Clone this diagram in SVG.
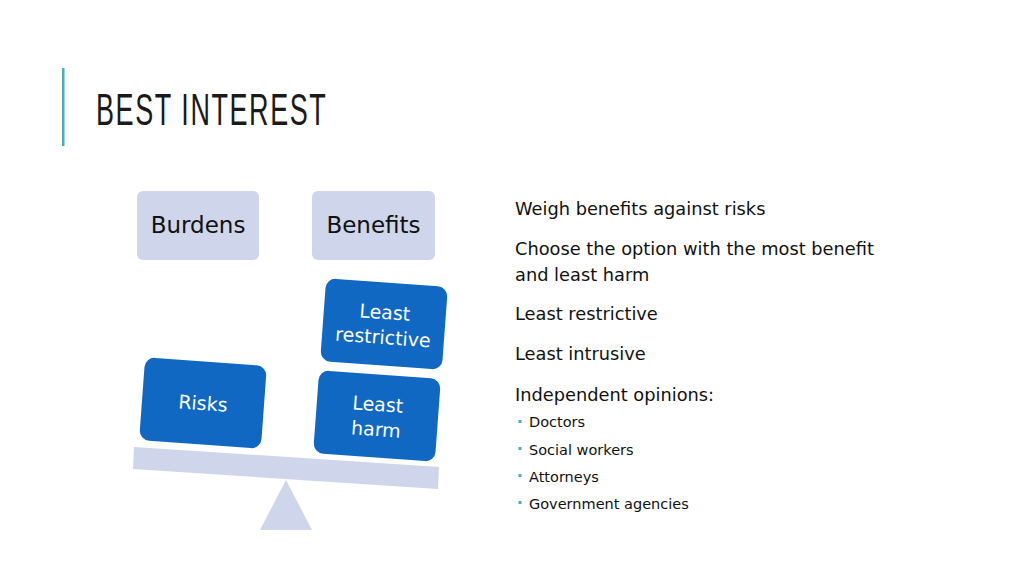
<svg xmlns="http://www.w3.org/2000/svg" width="1024" height="576" viewBox="0 0 1024 576">
<style>
.bg{fill:#ffffff}
.light{fill:#cfd5ea}
.blue{fill:#1068c2}
.lbl{font-family:"DejaVu Sans","Noto Sans",sans-serif;font-size:23px;fill:#111111;text-anchor:middle}
.wlbl{font-family:"DejaVu Sans","Noto Sans",sans-serif;font-size:19px;fill:#ffffff;text-anchor:middle}
.body{font-family:"DejaVu Sans","Noto Sans",sans-serif;font-size:17.8px;fill:#111111}
.sub{font-family:"DejaVu Sans","Noto Sans",sans-serif;font-size:14.5px;fill:#111111}
.bul{fill:#4bacc6}
.title{font-family:"Liberation Sans",Arial,sans-serif;font-size:45px;fill:#1a1a1a}
</style>
<rect class="bg" x="0" y="0" width="1024" height="576"/>
<rect x="62" y="68" width="2.5" height="78" fill="#4bacc6"/>
<text class="title" transform="scale(0.6,1)" x="160" y="125" textLength="383" lengthAdjust="spacing">BEST INTEREST</text>

<g id="burdens">
<rect class="light" x="137" y="191" width="122" height="69" rx="6"/>
<text class="lbl" x="198" y="233">Burdens</text>
</g>
<g id="benefits">
<rect class="light" x="312" y="191" width="123" height="69" rx="6"/>
<text class="lbl" x="373.5" y="233">Benefits</text>
</g>

<g id="least-restrictive" transform="translate(384,324) rotate(4.2)">
<rect class="blue" x="-61" y="-41.5" width="122" height="83" rx="10"/>
<text class="wlbl" x="0" y="-5">Least</text>
<text class="wlbl" x="0" y="20">restrictive</text>
</g>
<g id="least-harm" transform="translate(377,416) rotate(4.2)">
<rect class="blue" x="-61" y="-41.5" width="122" height="83" rx="10"/>
<text class="wlbl" x="0" y="-5">Least</text>
<text class="wlbl" x="0" y="20">harm</text>
</g>
<g id="risks" transform="translate(203,403) rotate(4.2)">
<rect class="blue" x="-61" y="-41.5" width="122" height="83" rx="10"/>
<text class="wlbl" x="0" y="7">Risks</text>
</g>

<g id="scale">
<polygon class="light" points="134,447 439,467 438,489 133,469"/>
<polygon class="light" points="286,480 312,530 260,530"/>
</g>

<g id="connectors"></g>

<g id="notes">
<text class="body" x="515" y="215">Weigh benefits against risks</text>
<text class="body" x="515" y="255">Choose the option with the most benefit</text>
<text class="body" x="515" y="280.5">and least harm</text>
<text class="body" x="515" y="320">Least restrictive</text>
<text class="body" x="515" y="360">Least intrusive</text>
<text class="body" x="515" y="401">Independent opinions:</text>
<rect class="bul" x="518.5" y="420" width="3" height="3"/>
<text class="sub" x="529" y="427">Doctors</text>
<rect class="bul" x="518.5" y="447" width="3" height="3"/>
<text class="sub" x="529" y="454.5">Social workers</text>
<rect class="bul" x="518.5" y="474" width="3" height="3"/>
<text class="sub" x="529" y="481.5">Attorneys</text>
<rect class="bul" x="518.5" y="501" width="3" height="3"/>
<text class="sub" x="529" y="509">Government agencies</text>
</g>
</svg>
